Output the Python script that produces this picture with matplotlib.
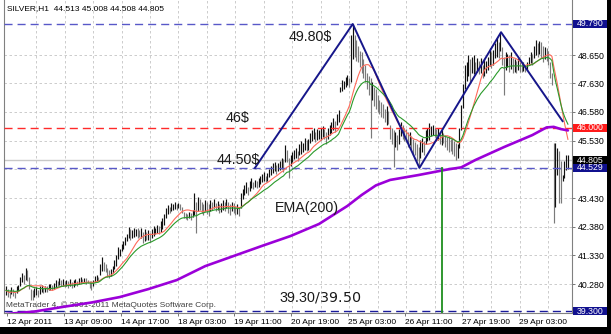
import numpy as np
import pandas as pd
import matplotlib
matplotlib.use("Agg")
import matplotlib.pyplot as plt
from matplotlib.patches import Rectangle

plt.rcParams['font.family'] = ['Liberation Sans', 'DejaVu Sans']

# --- SILVER H1 bars (high / low), one value per hour ---
highs = [
    40.20, 40.10, 40.05, 40.18, 40.12, 40.00, 40.22, 40.25, 40.55, 40.70,
    40.62, 40.88, 40.80, 40.55, 40.10, 40.05, 40.15, 40.18, 40.05, 40.20,
    40.25, 40.15, 40.22, 40.20, 40.28, 40.30, 40.25, 40.32, 40.45, 40.40,
    40.50, 40.42, 40.48, 40.38, 40.45, 40.40, 40.47, 40.35, 40.42, 40.46,
    40.40, 40.50, 40.54, 40.48, 40.52, 40.50, 40.45, 40.40, 40.38, 40.45,
    40.58, 40.62, 40.55, 41.00, 41.27, 41.10, 41.00, 40.87, 40.80, 40.85,
    40.95, 41.15, 41.35, 41.64, 41.55, 41.75, 41.85, 42.00, 42.10, 42.37,
    42.30, 42.25, 42.35, 42.30, 42.33, 42.25, 42.35, 42.20, 42.28, 42.20,
    42.25, 42.15, 42.30, 42.40, 42.35, 42.45, 42.40, 42.60, 42.70, 42.85,
    43.05, 43.17, 43.10, 43.25, 43.20, 43.28, 43.22, 43.25, 43.20, 43.10,
    42.92, 42.90, 42.85, 42.92, 42.88, 43.00, 43.61, 43.30, 43.47, 43.40,
    43.30, 43.20, 43.35, 43.28, 43.20, 43.35, 43.30, 43.40, 43.25, 43.32,
    43.20, 43.25, 43.35, 43.30, 43.40, 43.28, 43.20, 43.30, 43.25, 43.15,
    43.20, 43.10, 43.60, 43.75, 43.90, 44.00, 43.85, 44.05, 44.16, 44.00,
    44.10, 44.05, 44.15, 44.25, 44.30, 44.38, 44.25, 44.35, 44.50, 44.60,
    44.70, 44.75, 44.65, 44.72, 44.80, 44.90, 44.85, 45.37, 45.20, 44.90,
    45.00, 45.10, 45.20, 45.26, 45.15, 45.40, 45.50, 45.45, 45.62, 45.55,
    45.60, 45.80, 45.90, 46.00, 45.85, 45.95, 45.90, 46.00, 46.05, 45.95,
    45.85, 46.00, 46.10, 46.20, 46.35, 46.25, 46.50, 46.65, 47.50, 47.74,
    47.70, 47.85, 47.93, 47.80, 49.39, 49.79, 49.39, 49.20, 49.00, 48.80,
    48.77, 48.50, 48.30, 48.00, 47.90, 47.80, 47.67, 47.50, 47.40, 47.20,
    47.00, 46.94, 46.85, 46.70, 46.80, 46.60, 46.10, 46.00, 45.90, 45.84,
    45.75, 45.95, 46.21, 46.10, 46.00, 45.95, 45.85, 45.84, 45.70, 45.60,
    45.48, 45.40, 45.30, 45.55, 45.62, 45.50, 45.90, 46.00, 46.17, 46.05,
    46.10, 46.00, 45.95, 46.00, 45.85, 45.90, 45.80, 45.73, 45.65, 45.70,
    45.60, 45.62, 45.50, 45.45, 45.40, 46.00, 46.83, 47.60, 48.29, 48.40,
    48.66, 48.50, 48.60, 48.66, 48.40, 48.55, 48.45, 48.55, 48.30, 48.50,
    48.45, 48.60, 48.91, 48.75, 48.85, 49.10, 49.28, 49.15, 49.46, 48.95,
    48.60, 48.77, 48.70, 48.65, 48.77, 48.55, 48.50, 48.45, 48.55, 48.40,
    48.35, 48.40, 48.30, 48.40, 48.60, 48.77, 48.70, 49.00, 49.20, 49.10,
    49.18, 49.13, 49.00, 48.95, 48.91, 48.80, 48.40, 48.00, 45.45, 45.45,
    45.26, 45.15, 44.80, 44.27, 44.80, 45.00, 45.008,
]
lows = [
    39.90, 39.82, 39.78, 39.92, 39.85, 39.79, 39.95, 40.02, 40.20, 40.35,
    40.30, 40.45, 40.40, 40.10, 39.72, 39.70, 39.82, 39.88, 39.80, 39.92,
    40.00, 39.96, 40.00, 39.98, 40.05, 40.08, 40.07, 40.10, 40.18, 40.20,
    40.25, 40.20, 40.22, 40.18, 40.20, 40.15, 40.22, 40.14, 40.18, 40.25,
    40.20, 40.30, 40.33, 40.32, 40.35, 40.30, 40.32, 40.15, 40.07, 40.20,
    40.36, 40.40, 40.38, 40.60, 40.75, 40.78, 40.73, 40.55, 40.50, 40.58,
    40.70, 40.85, 40.95, 41.20, 41.30, 41.50, 41.55, 41.70, 41.85, 41.95,
    41.90, 41.95, 42.00, 42.05, 41.98, 42.00, 41.95, 41.80, 41.85, 41.90,
    41.90, 41.82, 41.95, 42.05, 42.10, 42.15, 42.10, 42.20, 42.30, 42.45,
    42.70, 42.85, 42.90, 42.95, 43.00, 43.02, 42.99, 43.05, 42.98, 42.90,
    42.70, 42.65, 42.63, 42.70, 42.64, 42.72, 42.80, 42.15, 42.95, 43.00,
    42.90, 42.80, 42.95, 42.85, 42.76, 42.95, 43.00, 43.05, 42.95, 42.98,
    42.88, 42.92, 43.00, 42.95, 43.05, 42.90, 42.82, 42.95, 42.88, 42.80,
    42.85, 42.78, 43.05, 43.40, 43.55, 43.60, 43.55, 43.70, 43.80, 43.75,
    43.82, 43.80, 43.85, 43.95, 44.00, 44.05, 44.00, 44.05, 44.20, 44.27,
    44.35, 44.40, 44.30, 44.40, 44.45, 44.50, 44.38, 44.75, 44.75, 44.16,
    44.60, 44.75, 44.85, 44.90, 44.80, 45.00, 45.05, 45.10, 45.20, 45.15,
    45.20, 45.45, 45.50, 45.60, 45.48, 45.55, 45.60, 45.55, 45.65, 45.60,
    45.40, 45.60, 45.75, 45.80, 45.90, 45.85, 46.10, 46.20, 47.30, 47.35,
    47.40, 47.50, 47.55, 47.49, 47.67, 48.50, 48.60, 48.45, 48.40, 48.20,
    48.00, 47.80, 47.67, 47.40, 47.20, 45.62, 47.00, 46.80, 46.70, 46.57,
    46.50, 46.40, 46.35, 46.20, 46.10, 46.15, 45.60, 45.40, 44.57, 45.30,
    45.18, 45.40, 45.70, 45.60, 45.50, 45.48, 45.30, 45.35, 45.20, 45.00,
    45.00, 44.80, 44.55, 44.90, 45.10, 45.00, 45.40, 45.50, 45.55, 45.70,
    45.75, 45.65, 45.50, 45.55, 45.40, 45.37, 45.45, 45.30, 45.20, 45.11,
    45.15, 45.05, 44.95, 44.82, 44.90, 45.26, 45.90, 46.72, 47.40, 47.70,
    47.90, 47.67, 48.00, 47.95, 47.93, 48.05, 47.95, 48.00, 47.82, 47.90,
    48.00, 48.10, 48.25, 48.18, 48.30, 48.55, 48.60, 48.55, 48.80, 48.30,
    47.20, 48.10, 48.20, 48.05, 48.15, 48.00, 48.05, 48.00, 48.10, 48.04,
    48.05, 48.08, 48.04, 48.10, 48.29, 48.35, 48.30, 48.55, 48.65, 48.60,
    48.70, 48.55, 48.40, 48.50, 48.45, 48.29, 47.80, 47.56, 42.52, 43.10,
    44.27, 43.25, 43.25, 44.05, 44.16, 44.45, 44.508,
]

# EMA(200) (bar index, price)
ema200_idx = [0, 16, 32, 48, 64, 80, 96, 112, 128, 144, 160, 176, 192, 200,
              208, 216, 224, 232, 248, 256, 264, 280, 288, 296, 304, 308, 312, 316]
ema200_val = [39.19, 39.28, 39.45, 39.61, 39.81, 40.10, 40.43, 40.94, 41.31,
              41.68, 42.04, 42.48, 43.14, 43.54, 43.89, 44.09, 44.18, 44.27,
              44.47, 44.55, 44.82, 45.29, 45.51, 45.73, 46.01, 46.03, 45.95, 45.90]

# hand-drawn W pattern
trend_idx = [140, 195, 232.5, 278.4, 313]
trend_val = [44.53, 49.79, 44.53, 49.49, 46.24]

time_labels = ["12 Apr 2011", "13 Apr 09:00", "14 Apr 17:00", "18 Apr 03:00",
               "19 Apr 11:00", "20 Apr 19:00", "25 Apr 03:00", "26 Apr 11:00",
               "27 Apr 19:00", "29 Apr 03:00"]
price_ticks = [40.28, 41.33, 42.38, 43.43, 45.53, 46.58, 47.63, 48.65]
grid_prices = [40.28, 41.33, 42.38, 43.43, 44.48, 45.53, 46.58, 47.63, 48.65]

top_level = 49.79
res_level = 46.00
sup_level = 44.529
low_level = 39.30
bid = 44.805
vline_idx = 245

highs = np.array(highs)
lows = np.array(lows)
idx = np.arange(len(highs))
mid = (highs + lows) / 2
ma_fast = pd.Series(mid).rolling(13, min_periods=1).mean()
ma_slow = pd.Series(mid).ewm(span=21, adjust=False).mean()

fig = plt.figure(figsize=(6.11, 3.34), dpi=100)
ax = fig.add_axes([4 / 611, 21 / 334, 568 / 611, 313 / 334])
ax.set_xlim(-1.125, 318.3)
ax.set_ylim(39.227, 50.667)

grid_kw = dict(color='#c4c4c4', lw=0.6, ls=(0, (3, 3)), zorder=0)
for g in grid_prices:
    ax.axhline(g, **grid_kw)
for k in range(1, 20):
    ax.axvline(16 * k + 1, **grid_kw)

ax.axhline(bid, color='#c8c8c8', lw=1.0, zorder=1)

# bars: black when the bar's midpoint rises, grey otherwise
up = np.r_[True, mid[1:] >= mid[:-1]]
cols = np.where(up, '#111111', '#7a7a7a')
ax.vlines(idx, lows, highs, colors=cols, lw=0.85, zorder=2)

dash = (0, (5.8, 3.6))
ax.axhline(top_level, color='#5858c8', lw=1.0, ls=dash, zorder=3)
ax.axhline(sup_level, color='#5858c8', lw=1.0, ls=dash, zorder=3)
ax.axhline(res_level, color='#ff2a2a', lw=1.0, ls=dash, zorder=3)
ax.axhline(low_level, color='#1a1a9a', lw=1.0, ls=dash, zorder=3)

ax.plot(idx, ma_fast, color='#ff6a5a', lw=0.8, zorder=4)
ax.plot(idx, ma_slow, color='#2a9a2a', lw=0.8, zorder=4)
ax.plot(ema200_idx, ema200_val, color='#9b00d9', lw=1.9, zorder=5,
        solid_capstyle='round')
ax.plot(trend_idx, trend_val, color='#16168a', lw=1.4, zorder=6)
ax.plot([vline_idx, vline_idx], [sup_level, 39.227], color='#1f8f1f', lw=1.3,
        zorder=6)

txt = dict(fontsize=10.3, color='#1a1a1a', ha='center', va='center', zorder=7)
ax.text(171, 49.30, "49.80$", **txt)
ax.text(130.5, 46.35, "46$", **txt)
ax.text(130.5, 44.82, "44.50$", **txt)
ax.text(169, 43.07, "EMA(200)", **txt)
ax.text(176.6, 39.78, "39.30$/39.50$", **txt)

ax.text(0.0055, 0.973, "SILVER,H1  44.513 45.008 44.508 44.805",
        transform=ax.transAxes, fontsize=6, ha='left', va='center')
ax.text(0.0015, 39.38, "MetaTrader 4, \u00a9 2001-2011 MetaQuotes Software Corp.",
        fontsize=6, color='#404040', ha='left', va='bottom', zorder=4)

# axes and ticks
for s in ['left', 'right', 'bottom']:
    ax.spines[s].set_color('#808080')
    ax.spines[s].set_linewidth(0.8)
ax.spines['top'].set_visible(False)

ax.yaxis.tick_right()
ax.set_yticks(price_ticks)
ax.set_yticklabels(["%.3f" % p for p in price_ticks])
ax.tick_params(axis='y', length=2.5, width=0.6, color='#606060', pad=1.5,
               labelsize=6.3)
ax.set_xticks([32 * k + 0.5 for k in range(len(time_labels))])
ax.set_xticklabels(time_labels, ha='left')
ax.tick_params(axis='x', length=2.5, width=0.6, color='#606060', pad=1.5,
               labelsize=6)

box_x = (573 - 4) / 568
box_w = 34 / 568
box_h = 8 / 27.36
yt = ax.get_yaxis_transform()
for val, label, col in [(top_level, "49.790", '#10108e'),
                        (res_level, "46.000", '#ff1a1a'),
                        (bid, "44.805", '#000000'),
                        (sup_level, "44.529", '#10108e'),
                        (low_level, "39.300", '#10108e')]:
    ax.add_patch(Rectangle((box_x, val - box_h / 2), box_w, box_h, transform=yt,
                           facecolor=col, edgecolor='none', clip_on=False,
                           zorder=8))
    ax.text(box_x + 0.006, val, label, transform=yt, color='white',
            fontsize=6.3, ha='left', va='center', clip_on=False, zorder=9)

# black frame strips at right and bottom
fig.patches.append(Rectangle((607 / 611, 0), 4 / 611, 1, transform=fig.transFigure,
                             facecolor='black', edgecolor='none'))
fig.patches.append(Rectangle((0, 0), 1, 7 / 334, transform=fig.transFigure,
                             facecolor='black', edgecolor='none'))

fig.savefig("out.png", dpi=100)
